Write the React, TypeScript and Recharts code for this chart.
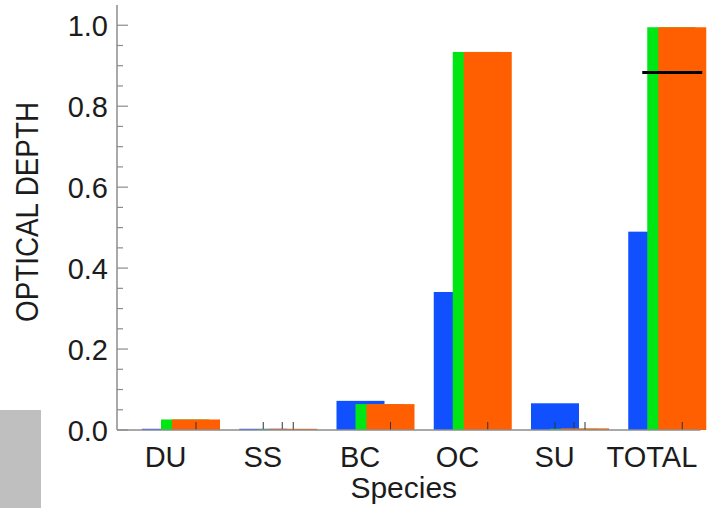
import React from "react";
import { BarChart, Bar, XAxis, YAxis, ReferenceArea } from "recharts";

const categories = ["DU", "SS", "BC", "OC", "SU", "TOTAL"];
const blueValues = [0.003, 0.003, 0.072, 0.341, 0.066, 0.49];
const greenValues = [0.026, 0.002, 0.064, 0.934, 0.003, 0.995];
const orangeValues = [0.026, 0.003, 0.064, 0.934, 0.004, 0.995];
const observedValues = [null, null, null, null, null, 0.883];
const yTicks = [
  0, 0.05, 0.1, 0.15, 0.2, 0.25, 0.3, 0.35, 0.4, 0.45, 0.5, 0.55, 0.6, 0.65,
  0.7, 0.75, 0.8, 0.85, 0.9, 0.95, 1.0,
];
const yTickLabels = ["0.0", "0.2", "0.4", "0.6", "0.8", "1.0"];

const data = categories.map((name, i) => ({
  name,
  blue: blueValues[i],
  green: greenValues[i],
  orange: orangeValues[i],
  obs: observedValues[i],
}));

const FONT = "'Liberation Sans', Arial, Helvetica, sans-serif";
const TEXT = "#1c1c1c";
const AXIS = "#8c8c8c";

const makeBarShape = (dx: number) => (props: any) => {
  const { x, y, width, height, fill } = props;
  if (x == null || y == null) return <g />;
  const h = Math.max(height || 0, 0);
  const base = y + h;
  const cx = x + dx + width / 2;
  return (
    <g>
      <rect x={x + dx} y={y} width={width} height={h} fill={fill} />
      <line x1={cx} x2={cx} y1={base} y2={base - 8} stroke="#333" strokeWidth={1} />
    </g>
  );
};

const obsShape = (props: any) => {
  const { x, y, width, payload } = props;
  if (!payload || payload.obs == null) return <g />;
  return <line x1={x + 20} x2={x + 20 + width} y1={y} y2={y} stroke="#000" strokeWidth={3} />;
};

const YTick = (props: any) => {
  const { x, y, payload } = props;
  const v = payload.value;
  const k = Math.round(v * 5);
  const major = Math.abs(v * 5 - k) < 1e-6;
  return (
    <g>
      <line x1={x} x2={x + (major ? 11 : 6)} y1={y} y2={y} stroke={AXIS} strokeWidth={1.2} />
      {major ? (
        <text x={x - 9} y={y} dy={11} textAnchor="end" fontFamily={FONT} fontSize={29} fill={TEXT}>
          {yTickLabels[k]}
        </text>
      ) : null}
    </g>
  );
};

const XTick = (props: any) => {
  const { x, y, payload } = props;
  return (
    <text x={x} y={y} dy={37} textAnchor="middle" fontFamily={FONT} fontSize={29} fill={TEXT}>
      {payload.value}
    </text>
  );
};

export default function App() {
  return (
    <div style={{ position: "absolute", left: 0, top: 0, width: 709, height: 508, background: "#fff" }}>
      <div
        style={{ position: "absolute", left: 0, top: 410, width: 41, height: 98, background: "#bfbfbf" }}
      />
      <BarChart
        width={709}
        height={508}
        data={data}
        margin={{ top: 5, right: 8.5, left: 0, bottom: 0 }}
      >
        <XAxis
          xAxisId="a"
          dataKey="name"
          height={78}
          tickLine={false}
          tickSize={0}
          tickMargin={0}
          axisLine={{ stroke: AXIS, strokeWidth: 1.5 }}
          tick={<XTick />}
          interval={0}
          label={{
            content: (p: any) => {
              const vb = p.viewBox || {};
              return (
                <text
                  x={vb.x + vb.width / 2 - 5}
                  y={vb.y + 68}
                  textAnchor="middle"
                  fontFamily={FONT}
                  fontSize={30}
                  fill={TEXT}
                >
                  Species
                </text>
              );
            },
          }}
        />
        <XAxis xAxisId="b" dataKey="name" hide />
        <XAxis xAxisId="c" dataKey="name" hide />
        <XAxis xAxisId="d" dataKey="name" hide />
        <YAxis
          width={117}
          domain={[0, 1.05]}
          ticks={yTicks}
          interval={0}
          tickLine={false}
          tickSize={0}
          tickMargin={0}
          axisLine={{ stroke: AXIS, strokeWidth: 1.5 }}
          tick={<YTick />}
          label={{
            content: () => (
              <text
                x={38}
                y={212}
                transform="rotate(-90, 38, 212)"
                textAnchor="middle"
                fontFamily={FONT}
                fontSize={31}
                fill={TEXT}
                textLength={220}
                lengthAdjust="spacingAndGlyphs"
              >
                OPTICAL DEPTH
              </text>
            ),
          }}
        />
        <ReferenceArea xAxisId="a" y1={0} fill="none" stroke={AXIS} strokeWidth={1.5} ifOverflow="visible" />
        <Bar xAxisId="a" dataKey="blue" fill="#1050ff" barSize={48} isAnimationActive={false} shape={makeBarShape(0)} />
        <Bar xAxisId="b" dataKey="green" fill="#00e614" barSize={48} isAnimationActive={false} shape={makeBarShape(19)} />
        <Bar xAxisId="c" dataKey="orange" fill="#ff5f00" barSize={48} isAnimationActive={false} shape={makeBarShape(30)} />
        <Bar xAxisId="d" dataKey="obs" fill="#000" barSize={60} isAnimationActive={false} shape={obsShape} />
      </BarChart>
    </div>
  );
}
